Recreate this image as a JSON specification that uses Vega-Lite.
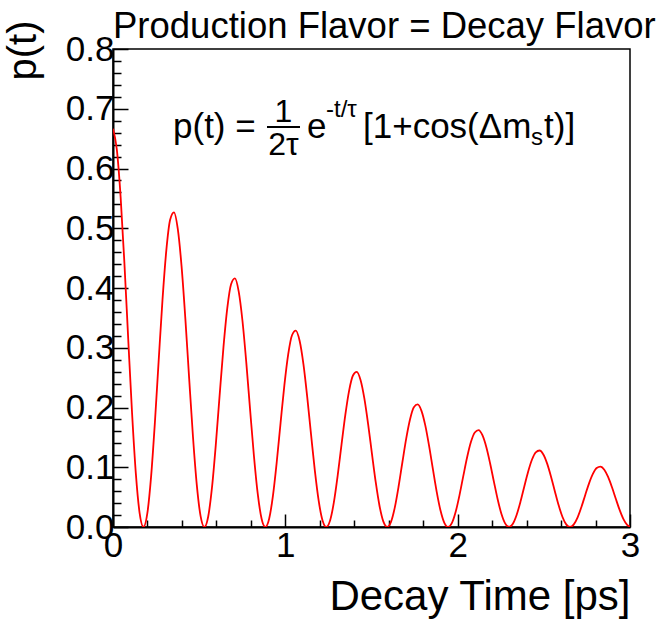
{
  "$schema": "https://vega.github.io/schema/vega-lite/v6.json",
  "width": 517,
  "height": 478,
  "autosize": {"type": "none"},
  "padding": {"left": 113, "top": 49, "right": 30, "bottom": 99},
  "background": "white",
  "config": {"view": {"stroke": "black", "strokeWidth": 1.5}, "font": "Liberation Sans"},
  "title": {"text": "Production Flavor = Decay Flavor", "anchor": "start", "frame": "group", "fontSize": 36.5, "font": "Liberation Sans", "fontWeight": "normal", "color": "black", "offset": 6, "dx": 0, "dy": 31},
  "datasets": {
    "curve": [
      {"t": 0, "p": 0.6667}, {"t": 0.0221, "p": 0.6319}, {"t": 0.0442, "p": 0.5525}, {"t": 0.0663, "p": 0.4410}, {"t": 0.0884, "p": 0.3143}, {"t": 0.1105, "p": 0.1912}, {"t": 0.1326, "p": 0.0894}, {"t": 0.1547, "p": 0.0229}, {"t": 0.1768, "p": 0}, {"t": 0.1989, "p": 0.0222}, {"t": 0.2210, "p": 0.0843}, {"t": 0.2431, "p": 0.1750}, {"t": 0.2652, "p": 0.2793}, {"t": 0.2873, "p": 0.3806}, {"t": 0.3094, "p": 0.4630}, {"t": 0.3315, "p": 0.5141},
      {"t": 0.3536, "p": 0.5267}, {"t": 0.3757, "p": 0.4992}, {"t": 0.3978, "p": 0.4365}, {"t": 0.4199, "p": 0.3484}, {"t": 0.4420, "p": 0.2483}, {"t": 0.4641, "p": 0.1510}, {"t": 0.4862, "p": 0.0706}, {"t": 0.5083, "p": 0.0181}, {"t": 0.5304, "p": 0}, {"t": 0.5525, "p": 0.0176}, {"t": 0.5746, "p": 0.0666}, {"t": 0.5967, "p": 0.1382}, {"t": 0.6188, "p": 0.2207}, {"t": 0.6409, "p": 0.3006}, {"t": 0.6630, "p": 0.3658}, {"t": 0.6851, "p": 0.4062},
      {"t": 0.7072, "p": 0.4161}, {"t": 0.7293, "p": 0.3944}, {"t": 0.7514, "p": 0.3448}, {"t": 0.7735, "p": 0.2752}, {"t": 0.7956, "p": 0.1961}, {"t": 0.8177, "p": 0.1193}, {"t": 0.8398, "p": 0.0558}, {"t": 0.8619, "p": 0.0143}, {"t": 0.8840, "p": 0}, {"t": 0.9061, "p": 0.0139}, {"t": 0.9282, "p": 0.0526}, {"t": 0.9503, "p": 0.1092}, {"t": 0.9724, "p": 0.1743}, {"t": 0.9945, "p": 0.2375}, {"t": 1.0166, "p": 0.2889}, {"t": 1.0387, "p": 0.3209},
      {"t": 1.0608, "p": 0.3287}, {"t": 1.0829, "p": 0.3116}, {"t": 1.1050, "p": 0.2724}, {"t": 1.1271, "p": 0.2174}, {"t": 1.1492, "p": 0.1549}, {"t": 1.1713, "p": 0.0943}, {"t": 1.1934, "p": 0.0441}, {"t": 1.2155, "p": 0.0113}, {"t": 1.2376, "p": 0}, {"t": 1.2597, "p": 0.0110}, {"t": 1.2818, "p": 0.0415}, {"t": 1.3039, "p": 0.0863}, {"t": 1.3260, "p": 0.1377}, {"t": 1.3481, "p": 0.1876}, {"t": 1.3702, "p": 0.2283}, {"t": 1.3923, "p": 0.2535},
      {"t": 1.4143, "p": 0.2597}, {"t": 1.4364, "p": 0.2461}, {"t": 1.4585, "p": 0.2152}, {"t": 1.4806, "p": 0.1718}, {"t": 1.5027, "p": 0.1224}, {"t": 1.5248, "p": 0.0745}, {"t": 1.5469, "p": 0.0348}, {"t": 1.5690, "p": 0.0089}, {"t": 1.5911, "p": 0}, {"t": 1.6132, "p": 0.0087}, {"t": 1.6353, "p": 0.0328}, {"t": 1.6574, "p": 0.0682}, {"t": 1.6795, "p": 0.1088}, {"t": 1.7016, "p": 0.1482}, {"t": 1.7237, "p": 0.1803}, {"t": 1.7458, "p": 0.2003},
      {"t": 1.7679, "p": 0.2051}, {"t": 1.7900, "p": 0.1944}, {"t": 1.8121, "p": 0.1700}, {"t": 1.8342, "p": 0.1357}, {"t": 1.8563, "p": 0.0967}, {"t": 1.8784, "p": 0.0588}, {"t": 1.9005, "p": 0.0275}, {"t": 1.9226, "p": 0.0070}, {"t": 1.9447, "p": 0}, {"t": 1.9668, "p": 0.0068}, {"t": 1.9889, "p": 0.0259}, {"t": 2.0110, "p": 0.0538}, {"t": 2.0331, "p": 0.0860}, {"t": 2.0552, "p": 0.1171}, {"t": 2.0773, "p": 0.1425}, {"t": 2.0994, "p": 0.1582},
      {"t": 2.1215, "p": 0.1621}, {"t": 2.1436, "p": 0.1536}, {"t": 2.1657, "p": 0.1343}, {"t": 2.1878, "p": 0.1072}, {"t": 2.2099, "p": 0.0764}, {"t": 2.2320, "p": 0.0465}, {"t": 2.2541, "p": 0.0217}, {"t": 2.2762, "p": 0.0056}, {"t": 2.2983, "p": 0}, {"t": 2.3204, "p": 0.0054}, {"t": 2.3425, "p": 0.0205}, {"t": 2.3646, "p": 0.0425}, {"t": 2.3867, "p": 0.0679}, {"t": 2.4088, "p": 0.0925}, {"t": 2.4309, "p": 0.1125}, {"t": 2.4530, "p": 0.1250},
      {"t": 2.4751, "p": 0.1280}, {"t": 2.4972, "p": 0.1214}, {"t": 2.5193, "p": 0.1061}, {"t": 2.5414, "p": 0.0847}, {"t": 2.5635, "p": 0.0604}, {"t": 2.5856, "p": 0.0367}, {"t": 2.6077, "p": 0.0172}, {"t": 2.6298, "p": 0.0044}, {"t": 2.6519, "p": 0}, {"t": 2.6740, "p": 0.0043}, {"t": 2.6961, "p": 0.0162}, {"t": 2.7182, "p": 0.0336}, {"t": 2.7403, "p": 0.0536}, {"t": 2.7624, "p": 0.0731}, {"t": 2.7845, "p": 0.0889}, {"t": 2.8066, "p": 0.0987},
      {"t": 2.8287, "p": 0.1011}, {"t": 2.8508, "p": 0.0959}, {"t": 2.8729, "p": 0.0838}, {"t": 2.8950, "p": 0.0669}, {"t": 2.9171, "p": 0.0477}, {"t": 2.9392, "p": 0.0290}, {"t": 2.9613, "p": 0.0136}, {"t": 2.9834, "p": 0.0035}, {"t": 3.0, "p": 0.0002}
    ]
  },
  "layer": [
    {
      "data": {"name": "curve"},
      "mark": {"type": "line", "color": "#ff0000", "strokeWidth": 1.8, "interpolate": "monotone", "clip": true},
      "encoding": {
        "x": {
          "field": "t", "type": "quantitative",
          "scale": {"domain": [0, 3], "nice": false, "zero": false},
          "axis": {
            "values": [0, 0.2, 0.4, 0.6, 0.8, 1, 1.2, 1.4, 1.6, 1.8, 2, 2.2, 2.4, 2.6, 2.8, 3],
            "tickCount": 100,
            "labelExpr": "abs(datum.value - round(datum.value)) < 0.001 ? format(datum.value, 'd') : ''",
            "tickSize": {"condition": {"test": "abs(datum.value - round(datum.value)) < 0.001", "value": -13}, "value": -7},
            "tickColor": "black", "tickWidth": 1.5,
            "domainColor": "black", "domainWidth": 2,
            "labelFontSize": 35, "labelFont": "Liberation Sans", "labelColor": "black",
            "labelPadding": 14, "labelFlush": false, "labelOverlap": false, "grid": false,
            "title": "Decay Time [ps]", "titleFontSize": 42, "titleFont": "Liberation Sans", "titleFontWeight": "normal", "titleColor": "black",
            "titleAnchor": "end", "titleAlign": "right", "titleBaseline": "alphabetic", "titleX": 517, "titleY": 82
          }
        },
        "y": {
          "field": "p", "type": "quantitative",
          "scale": {"domain": [0, 0.8], "nice": false, "zero": false},
          "axis": {
            "values": [0, 0.02, 0.04, 0.06, 0.08, 0.1, 0.12, 0.14, 0.16, 0.18, 0.2, 0.22, 0.24, 0.26, 0.28, 0.3, 0.32, 0.34, 0.36, 0.38, 0.4, 0.42, 0.44, 0.46, 0.48, 0.5, 0.52, 0.54, 0.56, 0.58, 0.6, 0.62, 0.64, 0.66, 0.68, 0.7, 0.72, 0.74, 0.76, 0.78, 0.8],
            "tickCount": 100,
            "labelExpr": "abs(datum.value * 10 - round(datum.value * 10)) < 0.001 ? format(datum.value, '.1f') : ''",
            "tickSize": {"condition": {"test": "abs(datum.value * 10 - round(datum.value * 10)) < 0.001", "value": -15}, "value": -8},
            "tickColor": "black", "tickWidth": 1.5,
            "domainColor": "black", "domainWidth": 2,
            "labelFontSize": 35, "labelFont": "Liberation Sans", "labelColor": "black",
            "labelPadding": 14, "labelFlush": false, "labelOverlap": false, "grid": false,
            "title": "p(t)", "titleFontSize": 40, "titleFont": "Liberation Sans", "titleFontWeight": "normal", "titleColor": "black",
            "titleAngle": 270, "titleAlign": "right", "titleBaseline": "alphabetic", "titleX": -78, "titleY": -29
          }
        }
      }
    },
    {"data": {"values": [{}]}, "mark": {"type": "text", "text": "p(t) =", "align": "left", "baseline": "alphabetic", "fontSize": 35, "font": "Liberation Sans", "color": "black"},
     "encoding": {"x": {"datum": 0.3482, "type": "quantitative"}, "y": {"datum": 0.6510, "type": "quantitative"}}},
    {"data": {"values": [{}]}, "mark": {"type": "text", "text": "1", "align": "center", "baseline": "alphabetic", "fontSize": 32, "font": "Liberation Sans", "color": "black"},
     "encoding": {"x": {"datum": 0.9894, "type": "quantitative"}, "y": {"datum": 0.6778, "type": "quantitative"}}},
    {"data": {"values": [{}]}, "mark": {"type": "rule", "color": "black", "strokeWidth": 2},
     "encoding": {"x": {"datum": 0.8936, "type": "quantitative"}, "x2": {"datum": 1.0851}, "y": {"datum": 0.6695, "type": "quantitative"}}},
    {"data": {"values": [{}]}, "mark": {"type": "text", "text": "2τ", "align": "center", "baseline": "alphabetic", "fontSize": 32, "font": "Liberation Sans", "color": "black"},
     "encoding": {"x": {"datum": 0.9894, "type": "quantitative"}, "y": {"datum": 0.6226, "type": "quantitative"}}},
    {"data": {"values": [{}]}, "mark": {"type": "text", "text": "e", "align": "left", "baseline": "alphabetic", "fontSize": 35, "font": "Liberation Sans", "color": "black"},
     "encoding": {"x": {"datum": 1.1257, "type": "quantitative"}, "y": {"datum": 0.6510, "type": "quantitative"}}},
    {"data": {"values": [{}]}, "mark": {"type": "text", "text": "-t/τ", "align": "left", "baseline": "alphabetic", "fontSize": 24, "font": "Liberation Sans", "color": "black"},
     "encoding": {"x": {"datum": 1.2360, "type": "quantitative"}, "y": {"datum": 0.6862, "type": "quantitative"}}},
    {"data": {"values": [{}]}, "mark": {"type": "text", "text": "[1+cos(Δm", "align": "left", "baseline": "alphabetic", "fontSize": 35, "font": "Liberation Sans", "color": "black"},
     "encoding": {"x": {"datum": 1.4507, "type": "quantitative"}, "y": {"datum": 0.6510, "type": "quantitative"}}},
    {"data": {"values": [{}]}, "mark": {"type": "text", "text": "s", "align": "left", "baseline": "alphabetic", "fontSize": 24, "font": "Liberation Sans", "color": "black"},
     "encoding": {"x": {"datum": 2.4255, "type": "quantitative"}, "y": {"datum": 0.6393, "type": "quantitative"}}},
    {"data": {"values": [{}]}, "mark": {"type": "text", "text": "t)]", "align": "left", "baseline": "alphabetic", "fontSize": 35, "font": "Liberation Sans", "color": "black"},
     "encoding": {"x": {"datum": 2.5010, "type": "quantitative"}, "y": {"datum": 0.6510, "type": "quantitative"}}}
  ]
}
